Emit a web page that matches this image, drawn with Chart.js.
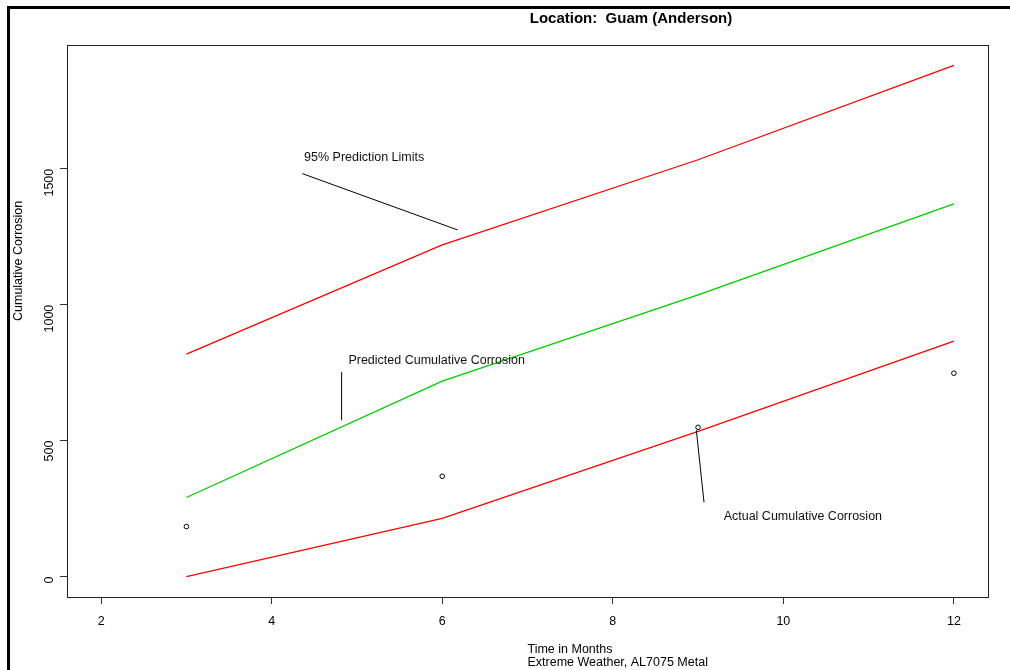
<!DOCTYPE html>
<html>
<head>
<meta charset="utf-8">
<script src="https://cdn.jsdelivr.net/npm/chart.js@4"></script>
<style>
  html, body { margin: 0; padding: 0; background: #fff; }
  #wrap { position: relative; width: 1010px; height: 670px; }
</style>
</head>
<body>
<div id="wrap"><canvas id="grafico" width="1010" height="670"></canvas></div>
<script>
// --- Datos ---
const meses = [3, 6, 9, 12];
const limiteSuperior = [818, 1220, 1533, 1880];
const prediccion = [291, 719, 1036, 1371];
const limiteInferior = [0, 214, 534, 866];
const observado = [184, 369, 549, 748];

const ticksX = [2, 4, 6, 8, 10, 12];
const ticksY = [0, 500, 1000, 1500];

// Notas (coordenadas en unidades de datos)
const notas = [
  { texto: "95% Prediction Limits", x: 4.38, y: 1541, linea: [[4.36, 1482], [6.18, 1275]] },
  { texto: "Predicted Cumulative Corrosion", x: 4.90, y: 796, linea: [[4.82, 752], [4.82, 575]] },
  { texto: "Actual Cumulative Corrosion", x: 9.30, y: 221, linea: [[8.98, 538], [9.07, 273]] },
];

const titulo = "Location:  Guam (Anderson)";
const tituloX = ["Time in Months", "Extreme Weather, AL7075 Metal"];
const tituloY = "Cumulative Corrosion";

const FUENTE = "Arial, 'Liberation Sans', sans-serif";
const pares = (ys) => meses.map((m, i) => ({ x: m, y: ys[i] }));

// Dibuja marco, título, rótulos y notas.
const extras = {
  id: "extras",
  afterDraw(chart) {
    const { ctx, chartArea: a, scales } = chart;
    const sx = scales.x, sy = scales.y;
    ctx.save();

    // marco exterior
    ctx.strokeStyle = "#000";
    ctx.lineWidth = 3;
    ctx.beginPath();
    ctx.moveTo(8.5, 670);
    ctx.lineTo(8.5, 7.5);
    ctx.lineTo(1010, 7.5);
    ctx.stroke();

    // caja del área de trazado
    ctx.lineWidth = 1;
    ctx.strokeStyle = "#222";
    ctx.strokeRect(Math.round(a.left) + 0.5, Math.round(a.top) + 0.5,
      Math.round(a.right - a.left), Math.round(a.bottom - a.top));

    // título
    ctx.fillStyle = "#000";
    ctx.font = "bold 15px " + FUENTE;
    ctx.textAlign = "center";
    ctx.textBaseline = "middle";
    ctx.fillText(titulo, 631, 19);

    // título eje X (dos líneas, alineado a la izquierda desde el centro)
    ctx.font = "12.5px " + FUENTE;
    ctx.textAlign = "left";
    const cx = (a.left + a.right) / 2;
    tituloX.forEach((t, i) => ctx.fillText(t, cx, 650 + i * 13));

    // título eje Y (rotado)
    const cy = (a.top + a.bottom) / 2;
    ctx.save();
    ctx.translate(19, cy);
    ctx.rotate(-Math.PI / 2);
    ctx.textAlign = "left";
    ctx.fillText(tituloY, 0, 0);
    ctx.restore();

    // notas
    ctx.strokeStyle = "#000";
    ctx.lineWidth = 1;
    notas.forEach((n) => {
      ctx.fillStyle = "#111";
      ctx.textAlign = "left";
      ctx.fillText(n.texto, sx.getPixelForValue(n.x), sy.getPixelForValue(n.y));
      ctx.beginPath();
      n.linea.forEach(([x, y], i) => {
        const px = sx.getPixelForValue(x), py = sy.getPixelForValue(y);
        i ? ctx.lineTo(px, py) : ctx.moveTo(px, py);
      });
      ctx.stroke();
    });

    ctx.restore();
  },
};

new Chart(document.getElementById("grafico"), {
  type: "line",
  data: {
    datasets: [
      { data: pares(limiteSuperior), borderColor: "#ff0000", borderWidth: 1.3, pointRadius: 0, tension: 0 },
      { data: pares(prediccion), borderColor: "#00cc00", borderWidth: 1.3, pointRadius: 0, tension: 0 },
      { data: pares(limiteInferior), borderColor: "#ff0000", borderWidth: 1.3, pointRadius: 0, tension: 0 },
      {
        data: pares(observado),
        showLine: false,
        pointRadius: 2.3,
        pointBorderWidth: 1,
        pointBorderColor: "#000",
        pointBackgroundColor: "#fff",
      },
    ],
  },
  options: {
    responsive: false,
    animation: false,
    events: [],
    layout: { padding: { left: 0, top: 45, right: 22, bottom: 0 } },
    plugins: { legend: { display: false }, title: { display: false }, tooltip: { enabled: false } },
    scales: {
      x: {
        type: "linear",
        min: 1.6,
        max: 12.4,
        afterBuildTicks: (s) => { s.ticks = ticksX.map((v) => ({ value: v })); },
        afterFit: (s) => { s.height = 73; },
        grid: { drawOnChartArea: false, drawTicks: true, tickLength: 7, color: "#333" },
        border: { display: false },
        ticks: { color: "#000", font: { size: 12.5, family: FUENTE }, padding: 10, maxRotation: 0, callback: (v) => String(v) },
      },
      y: {
        min: -75,
        max: 1955,
        afterBuildTicks: (s) => { s.ticks = ticksY.map((v) => ({ value: v })); },
        afterFit: (s) => { s.width = 67; },
        grid: { drawOnChartArea: false, drawTicks: true, tickLength: 7, color: "#333" },
        border: { display: false },
        ticks: { color: "#000", font: { size: 12.5, family: FUENTE }, padding: 10, minRotation: 90, maxRotation: 90, callback: (v) => String(v) },
      },
    },
  },
  plugins: [extras],
});
</script>
</body>
</html>
